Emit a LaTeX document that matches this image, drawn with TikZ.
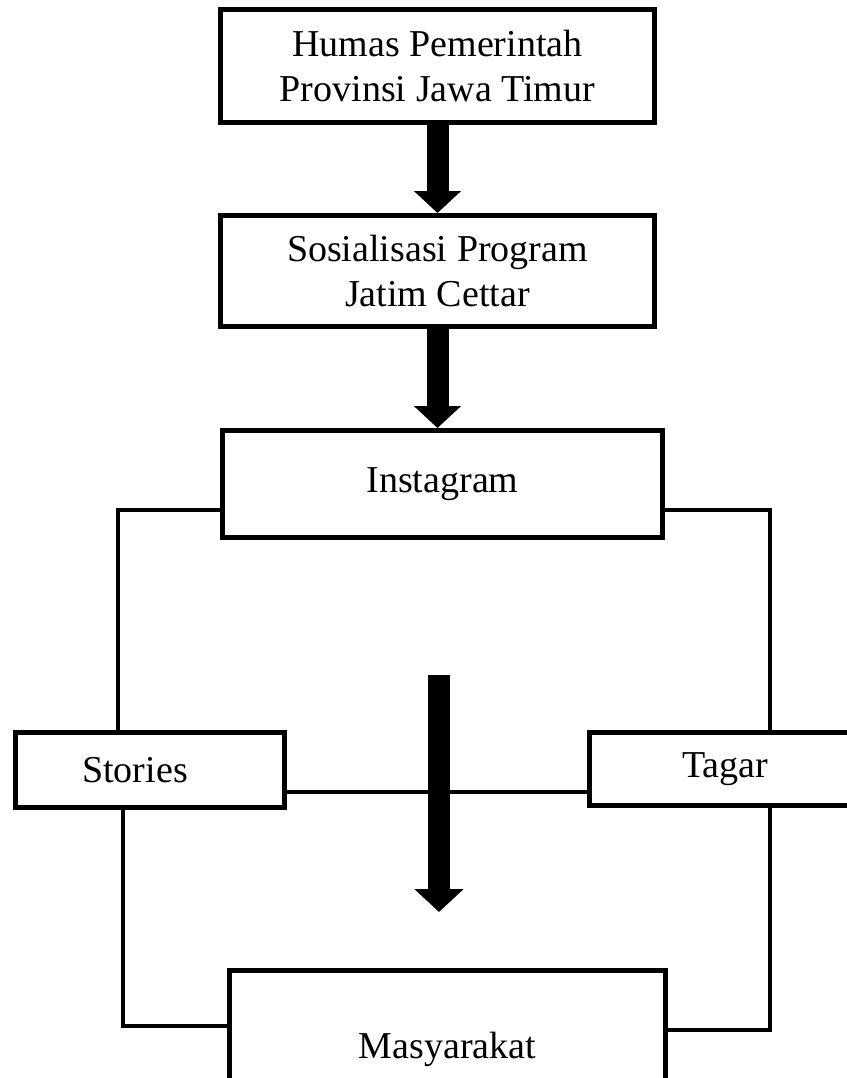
\documentclass[tikz,border=0pt]{standalone}
\usepackage{fontspec}
\setmainfont{Liberation Serif}
\usetikzlibrary{arrows.meta}
\tikzstyle{box} = [draw, line width=2.5pt, align=center, inner sep=0pt, font=\fontsize{19}{22.5}\selectfont]
\tikzstyle{link} = [line width=2.2pt]
\tikzstyle{bigarrow} = [draw=black, fill=black!93, line width=11pt, -{Triangle[width=23pt, length=11pt]}]

\begin{document}
\begin{tikzpicture}[x=0.5pt, y=-0.5pt]
  \useasboundingbox (0,0) rectangle (847,1078);
  \clip (0,0) rectangle (847,1078);
  \fill[white] (0,0) rectangle (847,1078);
  \node (humas) at (437.5,66) [box, minimum width=217pt, minimum height=56.5pt] {Humas Pemerintah\\Provinsi Jawa Timur};
  \node (sosial) at (437.5,271) [box, minimum width=217pt, minimum height=55.5pt] {Sosialisasi Program\\Jatim Cettar};
  \node (insta) at (442.5,484) [box, minimum width=220pt, minimum height=53.5pt] {Instagram};
  \node (stories) at (150,770) [box, minimum width=134.5pt, minimum height=37.5pt] {Stories\hspace*{15pt}};
  \node (tagar) at (725,769) [box, minimum width=135.5pt, minimum height=36.5pt] {Tagar};
  \node (masy) at (447.5,1049) [box, minimum width=218pt, minimum height=78.5pt] {Masyarakat};
  \coordinate (lt) at (118,510);
  \coordinate (rt) at (770,510);
  \coordinate (lb) at (123,1026);
  \coordinate (rb) at (770,1030);
  \coordinate (mid) at (439,792);
  \coordinate (top) at (439,675);
  \coordinate (tip) at (439,912);
  \draw [link] (insta.west |- lt) -| (lt |- stories.north);
  \draw [link] (insta.east |- rt) -| (rt |- tagar.north);
  \draw [link] (lb |- stories.south) |- (masy.west |- lb);
  \draw [link] (rb |- tagar.south) |- (masy.east |- rb);
  \draw [link] (stories.east |- mid) -- (tagar.west |- mid);
  \draw [bigarrow] (humas.south) -- (sosial.north);
  \draw [bigarrow] (sosial.south) -- (sosial.south |- insta.north);
  \draw [bigarrow, -{Triangle[width=24pt, length=11.5pt]}] (top) -- (tip);
\end{tikzpicture}
\end{document}
